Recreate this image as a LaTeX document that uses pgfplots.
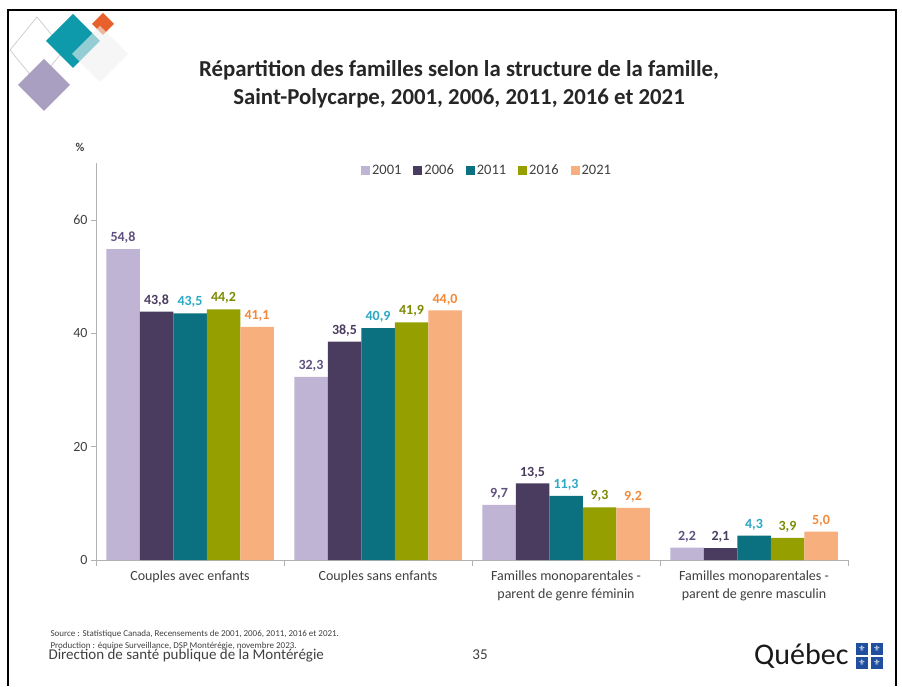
\documentclass[border=0pt]{standalone}
\usepackage{fontspec}
\setmainfont{Carlito}
\newfontfamily\dejavu{DejaVu Sans}
\usepackage{pgfplots}
\pgfplotsset{compat=1.18}
\definecolor{cA}{HTML}{C0B4D4}
\definecolor{cB}{HTML}{4A3C5E}
\definecolor{cC}{HTML}{0B7180}
\definecolor{cD}{HTML}{95A000}
\definecolor{cE}{HTML}{F7AF7D}
\definecolor{lA}{HTML}{5F5080}
\definecolor{lB}{HTML}{4A3C5E}
\definecolor{lC}{HTML}{2AA8C4}
\definecolor{lD}{HTML}{7C8A00}
\definecolor{lE}{HTML}{F28A3C}
\definecolor{txt}{HTML}{404040}
\definecolor{teal1}{HTML}{0E9AAA}
\definecolor{orng}{HTML}{E8612C}
\definecolor{lav}{HTML}{A99FC0}
\definecolor{qblue}{HTML}{1F4F9E}
\begin{document}
\begin{tikzpicture}
\useasboundingbox (0,0) rectangle (902pt,686pt);
\fill[white] (0,0) rectangle (902pt,686pt);
% decorative logo
\draw[black!20, line width=0.7pt] (10pt,636pt) -- (37pt,669pt) -- (64pt,636pt) -- (37pt,603pt) -- cycle;
\fill[lav] (18pt,601pt) -- (44pt,627pt) -- (70pt,601pt) -- (44pt,575pt) -- cycle;
\fill[teal1] (46pt,645pt) -- (73pt,672pt) -- (100pt,645pt) -- (73pt,618pt) -- cycle;
\fill[orng] (92pt,662pt) -- (103pt,673pt) -- (114pt,662pt) -- (103pt,651pt) -- cycle;
\fill[black!6, opacity=0.6] (72pt,632pt) -- (100pt,660pt) -- (128pt,632pt) -- (100pt,604pt) -- cycle;
% frame
\draw[line width=2pt] (8pt,0pt) -- (8pt,676pt) -- (896pt,676pt) -- (896pt,0pt);
% title
\node[font=\fontsize{22.8}{26}\selectfont\bfseries, text=black!85] at (459pt,616pt) {Répartition des familles selon la structure de la famille,};
\node[font=\fontsize{22.8}{26}\selectfont\bfseries, text=black!85] at (459pt,588pt) {Saint-Polycarpe, 2001, 2006, 2011, 2016 et 2021};
\node[font=\fontsize{12}{14}\selectfont\bfseries, text=txt] at (80pt,539pt) {\%};
\begin{axis}[
  at={(96pt,126pt)}, anchor=south west,
  scale only axis, width=752pt, height=397pt,
  xmin=-0.5, xmax=3.5, ymin=0, ymax=70,
  axis x line*=bottom, axis y line*=left,
  axis line style={draw=black!30, -, line width=0.8pt},
  ytick={0,20,40,60},
  tick align=outside, major tick length=5pt,
  ytick style={draw=black!30},
  xtick={0,1,2,3},
  minor xtick={-0.5,0.5,1.5,2.5,3.5},
  minor tick length=6pt,
  major x tick style={draw=none},
  minor x tick style={draw=black!30, line width=0.8pt},
  xticklabels={Couples avec enfants, Couples sans enfants, {Familles monoparentales -\\parent de genre féminin}, {Familles monoparentales -\\parent de genre masculin}},
  ticklabel style={text=txt, font=\fontsize{14}{18}\selectfont},
  xticklabel style={align=center, yshift=-2pt},
  /pgf/number format/assume math mode=true,
  ybar=0pt, bar width=33.5pt,
  nodes near coords={\pgfmathprintnumber[fixed,fixed zerofill,precision=1,use comma,assume math mode=true]{\pgfplotspointmeta}},
  every node near coord/.append style={font=\fontsize{14}{16}\selectfont\bfseries, yshift=2pt},
  legend style={draw=none, at={(0.52,0.982)}, anchor=center, font=\fontsize{14.5}{16}\selectfont, text=txt, /tikz/every even column/.append style={column sep=10pt}},
  legend columns=5,
  clip=false,
]
\addplot[fill=cA, draw=none, every node near coord/.append style={text=lA}, legend image code/.code={\fill[cA] (-3pt,-4.5pt) rectangle (6pt,4.5pt);}] coordinates {(0,54.8) (1,32.3) (2,9.7) (3,2.2)};
\addplot[fill=cB, draw=none, every node near coord/.append style={text=lB}, legend image code/.code={\fill[cB] (-3pt,-4.5pt) rectangle (6pt,4.5pt);}] coordinates {(0,43.8) (1,38.5) (2,13.5) (3,2.1)};
\addplot[fill=cC, draw=none, every node near coord/.append style={text=lC}, legend image code/.code={\fill[cC] (-3pt,-4.5pt) rectangle (6pt,4.5pt);}] coordinates {(0,43.5) (1,40.9) (2,11.3) (3,4.3)};
\addplot[fill=cD, draw=none, every node near coord/.append style={text=lD}, legend image code/.code={\fill[cD] (-3pt,-4.5pt) rectangle (6pt,4.5pt);}] coordinates {(0,44.2) (1,41.9) (2,9.3) (3,3.9)};
\addplot[fill=cE, draw=none, every node near coord/.append style={text=lE}, legend image code/.code={\fill[cE] (-3pt,-4.5pt) rectangle (6pt,4.5pt);}] coordinates {(0,41.1) (1,44.0) (2,9.2) (3,5.0)};
\legend{2001,2006,2011,2016,2021}
\end{axis}
% footer
\node[anchor=west, font=\fontsize{9}{10}\selectfont, text=txt] at (47pt,52pt) {Source : Statistique Canada, Recensements de 2001, 2006, 2011, 2016 et 2021.};
\node[anchor=west, font=\fontsize{9}{10}\selectfont, text=txt] at (47pt,40pt) {Production : équipe Surveillance, DSP Montérégie, novembre 2023.};
\node[anchor=west, font=\fontsize{15}{17}\selectfont, text=txt] at (45pt,30pt) {Direction de santé publique de la Montérégie};
\node[font=\fontsize{15}{17}\selectfont, text=txt] at (480pt,31pt) {35};
\node[anchor=east, font=\fontsize{30}{32}\selectfont, text=black!90] at (852pt,30pt) {Québec};
\fill[qblue] (856pt,31pt) rectangle (868pt,43pt);
\fill[qblue] (871pt,31pt) rectangle (883pt,43pt);
\fill[qblue] (856pt,17pt) rectangle (868pt,29pt);
\fill[qblue] (871pt,17pt) rectangle (883pt,29pt);
\foreach \cx/\cy in {862/37,877/37,862/23,877/23}
  \node[text=white, font=\dejavu\fontsize{8}{8}\selectfont, inner sep=0pt] at (\cx pt,\cy pt) {⚜};
\end{tikzpicture}
\end{document}
